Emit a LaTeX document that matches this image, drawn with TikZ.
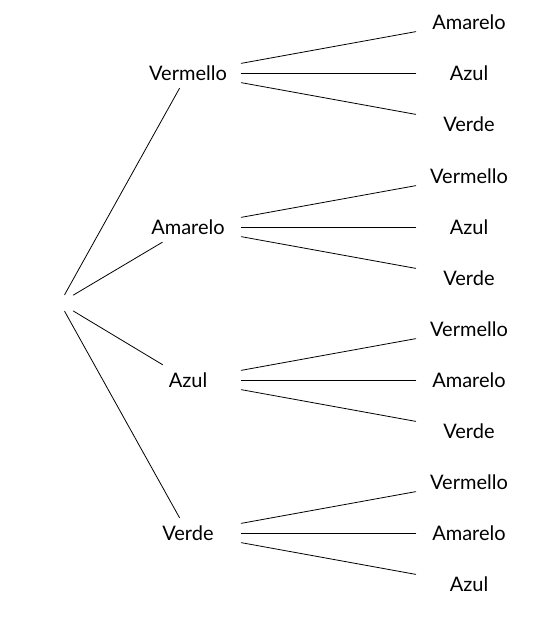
\documentclass[tikz,border=0pt]{standalone}
\usepackage{fontspec}
\setmainfont{Lato}

\begin{document}
\begin{tikzpicture}[x=0.75pt,y=-0.75pt,font=\fontsize{15}{18}\selectfont,line cap=round,
  cor/.style={minimum width=79.5pt,minimum height=22.5pt,inner sep=0pt},
  raiz/.style={minimum width=19.5pt,minimum height=12pt,inner sep=0pt},
  rama/.style={line width=0.6pt}]
\useasboundingbox (0,0) rectangle (539,619);
% raiz
\node[raiz] (r) at (60,303) {};
% primeira extraccion
\node[cor] (v) at (188,73) {Vermello};
\node[cor] (am) at (188,227) {Amarelo};
\node[cor] (az) at (188,380) {Azul};
\node[cor] (ve) at (188,533) {Verde};
% segunda extraccion
\node[cor] (v1) at (469,22) {Amarelo};
\node[cor] (v2) at (469,73) {Azul};
\node[cor] (v3) at (469,124) {Verde};
\node[cor] (am1) at (469,176) {Vermello};
\node[cor] (am2) at (469,227) {Azul};
\node[cor] (am3) at (469,278) {Verde};
\node[cor] (az1) at (469,329) {Vermello};
\node[cor] (az2) at (469,380) {Amarelo};
\node[cor] (az3) at (469,431) {Verde};
\node[cor] (ve1) at (469,482) {Vermello};
\node[cor] (ve2) at (469,533) {Amarelo};
\node[cor] (ve3) at (469,584) {Azul};
% ramas
\draw[rama] (r) -- (v);
\draw[rama] (r) -- (am);
\draw[rama] (r) -- (az);
\draw[rama] (r) -- (ve);
\draw[rama] (v) -- (v1);
\draw[rama] (v) -- (v2);
\draw[rama] (v) -- (v3);
\draw[rama] (am) -- (am1);
\draw[rama] (am) -- (am2);
\draw[rama] (am) -- (am3);
\draw[rama] (az) -- (az1);
\draw[rama] (az) -- (az2);
\draw[rama] (az) -- (az3);
\draw[rama] (ve) -- (ve1);
\draw[rama] (ve) -- (ve2);
\draw[rama] (ve) -- (ve3);
\end{tikzpicture}
\end{document}
